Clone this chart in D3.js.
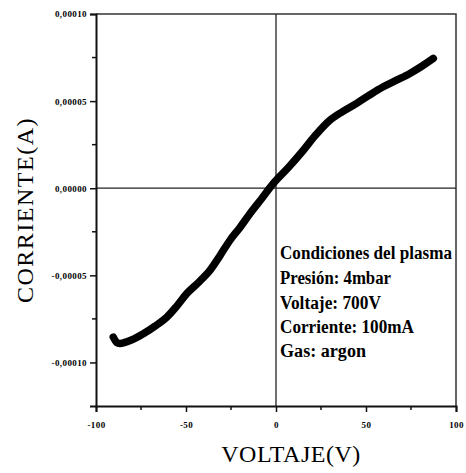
<!DOCTYPE html>
<html>
<head>
<meta charset="utf-8">
<script src="https://cdn.jsdelivr.net/npm/d3@7"></script>
<style>
  body { margin: 0; background: #fff; }
  svg { display: block; }
</style>
</head>
<body>
<div id="chart"></div>
<script>
// curve (voltage in V, current in A)
var voltaje = [-90.4, -88.5, -86.7, -80, -73.7, -67, -60.7, -55, -49.6, -43, -36.7, -31, -25.6, -20, -14.4, -8, -1.5, 7, 15.2, 22, 30.0, 37, 44.8, 52, 59.6, 67, 74.4, 81, 87.4];
var corriente = [-8.55e-5, -8.85e-5, -8.91e-5, -8.7e-5, -8.35e-5, -7.9e-5, -7.40e-5, -6.75e-5, -6.05e-5, -5.4e-5, -4.71e-5, -3.85e-5, -2.99e-5, -2.25e-5, -1.45e-5, -0.6e-5, 0.27e-5, 1.2e-5, 2.18e-5, 3.05e-5, 3.91e-5, 4.4e-5, 4.87e-5, 5.35e-5, 5.82e-5, 6.2e-5, 6.59e-5, 7.0e-5, 7.45e-5];

var xTicks = [-100, -50, 0, 50, 100];
var xTickLabels = ["-100", "-50", "0", "50", "100"];
var yTicks = [0.0001, 0.00005, 0, -0.00005, -0.0001];
var yTickLabels = ["0,00010", "0,00005", "0,00000", "-0,00005", "-0,00010"];
var xMinor = [-75, -25, 25, 75];
var yMinor = [0.000075, 0.000025, -0.000025, -0.000075];

var notas = ["Condiciones del plasma", "Presión: 4mbar", "Voltaje: 700V", "Corriente: 100mA", "Gas: argon"];
var notasAncho = [172, 111, 101, 134, 86];

var width = 466, height = 473;
var margin = {top: 14, right: 10, bottom: 67, left: 96};

var svg = d3.select("#chart").append("svg")
    .attr("width", width)
    .attr("height", height);

var x = d3.scaleLinear().domain([-100, 100]).range([margin.left, width - margin.right]);
var y = d3.scaleLinear().domain([-0.000125, 0.0001]).range([height - margin.bottom, margin.top]);

// frame (top and right)
svg.append("path")
    .attr("d", "M" + x(-100) + "," + y(0.0001) + "H" + x(100) + "V" + y(-0.000125))
    .attr("fill", "none")
    .attr("stroke", "#333")
    .attr("stroke-width", 1.5);

// cross lines at zero
svg.append("line")
    .attr("x1", x(0)).attr("x2", x(0))
    .attr("y1", y(0.0001)).attr("y2", y(-0.000125))
    .attr("stroke", "#222").attr("stroke-width", 1.3);
svg.append("line")
    .attr("x1", x(-100)).attr("x2", x(100))
    .attr("y1", y(0)).attr("y2", y(0))
    .attr("stroke", "#222").attr("stroke-width", 1.3);

// bottom axis
var xAxis = svg.append("g")
    .attr("transform", "translate(0," + y(-0.000125) + ")")
    .call(d3.axisBottom(x).tickValues(xTicks).tickSize(6).tickPadding(10)
      .tickFormat(function(d, i) { return xTickLabels[i]; }));
svg.append("g")
    .attr("transform", "translate(0," + y(-0.000125) + ")")
    .selectAll("line").data(xMinor).enter().append("line")
      .attr("x1", function(d) { return x(d); })
      .attr("x2", function(d) { return x(d); })
      .attr("y1", 0).attr("y2", 4)
      .attr("stroke", "#111").attr("stroke-width", 1.5);

// left axis
var yAxis = svg.append("g")
    .attr("transform", "translate(" + x(-100) + ",0)")
    .call(d3.axisLeft(y).tickValues(yTicks).tickSize(6).tickPadding(3)
      .tickFormat(function(d, i) { return yTickLabels[i]; }));
svg.append("g")
    .attr("transform", "translate(" + x(-100) + ",0)")
    .selectAll("line").data(yMinor).enter().append("line")
      .attr("y1", function(d) { return y(d); })
      .attr("y2", function(d) { return y(d); })
      .attr("x1", 0).attr("x2", -4)
      .attr("stroke", "#111").attr("stroke-width", 1.5);

[xAxis, yAxis].forEach(function(ax) {
  ax.select(".domain").attr("stroke", "#111").attr("stroke-width", 2);
  ax.selectAll(".tick line").attr("stroke", "#111").attr("stroke-width", 1.5);
  ax.selectAll(".tick text")
    .attr("font-family", "Liberation Serif")
    .attr("font-weight", "bold")
    .attr("font-size", 9)
    .attr("letter-spacing", 0.4)
    .attr("fill", "#000");
});

// the measured curve
var pts = voltaje.map(function(v, i) { return [v, corriente[i]]; });
var line = d3.line()
    .x(function(d) { return x(d[0]); })
    .y(function(d) { return y(d[1]); })
    .curve(d3.curveCatmullRom);
svg.append("path")
    .datum(pts)
    .attr("d", line)
    .attr("fill", "none")
    .attr("stroke", "#000")
    .attr("stroke-width", 7.5)
    .attr("stroke-linecap", "round")
    .attr("stroke-linejoin", "round");

// axis titles
svg.append("text")
    .attr("x", 291).attr("y", 462)
    .attr("text-anchor", "middle")
    .attr("font-family", "Liberation Serif")
    .attr("font-size", 24)
    .attr("letter-spacing", 0.5)
    .text("VOLTAJE(V)");
svg.append("text")
    .attr("transform", "translate(33,210) rotate(-90)")
    .attr("text-anchor", "middle")
    .attr("font-family", "Liberation Serif")
    .attr("font-size", 24)
    .attr("letter-spacing", 1.5)
    .text("CORRIENTE(A)");

// plasma conditions
var lineY = [259, 284, 309, 333, 357];
svg.append("g").selectAll("text").data(notas).enter().append("text")
    .attr("x", 280)
    .attr("y", function(d, i) { return lineY[i]; })
    .attr("font-family", "Liberation Serif")
    .attr("font-weight", "bold")
    .attr("font-size", 18)
    .attr("textLength", function(d, i) { return notasAncho[i]; })
    .attr("lengthAdjust", "spacingAndGlyphs")
    .text(function(d) { return d; });
</script>
</body>
</html>
